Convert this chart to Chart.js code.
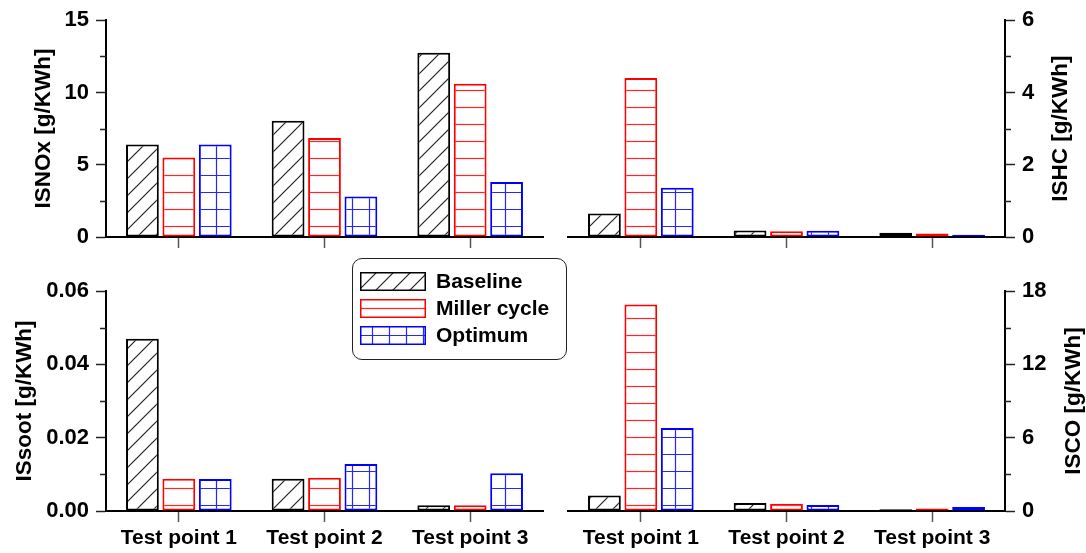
<!DOCTYPE html>
<html>
<head>
<meta charset="utf-8">
<title>Emissões por ponto de teste</title>
<script src="https://cdn.jsdelivr.net/npm/chart.js@4.4.1/dist/chart.umd.min.js"></script>
<style>
  html, body { margin: 0; padding: 0; background: #fff; }
  #tela { position: relative; width: 1086px; height: 553px; }
  #tela canvas.painel { position: absolute; left: 0; top: 0; }
  #legenda { position: absolute; left: 352px; top: 258px; width: 215px; height: 102px; box-sizing: border-box;
    border: 1.5px solid #222; border-radius: 10px; background: #fff;
    font: bold 21px 'Liberation Sans', Arial, sans-serif; color: #000; }
  #legenda .item { position: absolute; left: 7px; height: 19px; display: flex; align-items: center; white-space: nowrap; }
  #legenda .item canvas { margin-right: 10px; }
</style>
</head>
<body>
<div id="tela">
  <canvas id="graficoNox" class="painel" width="1086" height="553"></canvas>
  <canvas id="graficoHc" class="painel" width="1086" height="553"></canvas>
  <canvas id="graficoSoot" class="painel" width="1086" height="553"></canvas>
  <canvas id="graficoCo" class="painel" width="1086" height="553"></canvas>
  <div id="legenda"></div>
</div>
<script>
const categorias = ['Test point 1', 'Test point 2', 'Test point 3'];
const series = ['Baseline', 'Miller cycle', 'Optimum'];

const noxBaseline = [6.4, 8.05, 12.75];
const noxMiller = [5.5, 6.85, 10.6];
const noxOptimum = [6.4, 2.8, 3.8];

const hcBaseline = [0.65, 0.18, 0.12];
const hcMiller = [4.4, 0.16, 0.1];
const hcOptimum = [1.36, 0.17, 0.06];

const sootBaseline = [0.047, 0.0088, 0.0016];
const sootMiller = [0.0088, 0.0091, 0.0016];
const sootOptimum = [0.0087, 0.0128, 0.0103];

const coBaseline = [1.26, 0.65, 0.15];
const coMiller = [16.9, 0.6, 0.2];
const coOptimum = [6.8, 0.5, 0.33];

const noxTicks = [0, 5, 10, 15];
const hcTicks = [0, 2, 4, 6];
const sootTicks = [0, 0.02, 0.04, 0.06];
const sootTickLabels = ['0.00', '0.02', '0.04', '0.06'];
const coTicks = [0, 6, 12, 18];

const cores = ['#000000', '#ff0000', '#0000ff'];

Chart.defaults.font.family = "'Liberation Sans', Arial, sans-serif";
Chart.defaults.font.weight = 'bold';
Chart.defaults.color = '#000';

// hachuras: diagonal, horizontal e grade
function criarPadrao(tipo, fase) {
    const c = document.createElement('canvas');
    c.width = 17; c.height = 17;
    const g = c.getContext('2d');
    g.fillStyle = '#fff';
    g.fillRect(0, 0, 17, 17);
    g.lineWidth = 1.2;
    g.beginPath();
    if (tipo == 'diag') {
        g.strokeStyle = '#222';
        g.moveTo(0, 17); g.lineTo(17, 0);
        g.moveTo(-2, 2); g.lineTo(2, -2);
        g.moveTo(15, 19); g.lineTo(19, 15);
    } else if (tipo == 'horiz') {
        g.strokeStyle = 'rgba(255,0,0,0.85)';
        g.moveTo(0, fase); g.lineTo(17, fase);
    } else {
        g.strokeStyle = 'rgba(0,0,255,0.85)';
        g.moveTo(0, fase); g.lineTo(17, fase);
        g.moveTo(12.5, 0); g.lineTo(12.5, 17);
    }
    g.stroke();
    return g.createPattern(c, 'repeat');
}

function padroes(fase) {
    return [criarPadrao('diag', fase), criarPadrao('horiz', fase), criarPadrao('grade', fase)];
}

function conjuntos(b, m, o, pad) {
    return [b, m, o].map((valores, i) => ({
        label: series[i],
        data: valores,
        backgroundColor: pad[i],
        borderColor: cores[i],
        borderWidth: 2,
        borderSkipped: false,
        categoryPercentage: 0.75,
        barPercentage: 0.9
    }));
}

// ticks menores e titulo do eixo direito (lido de baixo para cima)
const detalheEixo = {
    id: 'detalheEixo',
    afterDraw(chart) {
        const ctx = chart.ctx;
        const y = chart.scales.y;
        const direita = y.position == 'right';
        const x0 = direita ? y.left : y.right;
        const dir = direita ? 1 : -1;
        ctx.save();
        ctx.strokeStyle = '#222';
        ctx.lineWidth = 1.5;
        ctx.beginPath();
        for (let i = 0; i < y.ticks.length - 1; i++) {
            const meio = (y.ticks[i].value + y.ticks[i + 1].value) / 2;
            const py = Math.round(y.getPixelForValue(meio)) + 0.5;
            ctx.moveTo(x0, py);
            ctx.lineTo(x0 + dir * 6, py);
        }
        ctx.stroke();
        const op = chart.options.plugins.detalheEixo;
        if (direita && op && op.titulo) {
            ctx.font = "bold 22.5px 'Liberation Sans', Arial, sans-serif";
            ctx.fillStyle = '#000';
            ctx.textAlign = 'center';
            ctx.textBaseline = 'middle';
            ctx.translate(y.right - op.distancia, (y.top + y.bottom) / 2);
            ctx.rotate(-Math.PI / 2);
            ctx.fillText(op.titulo, 0, 0);
        }
        ctx.restore();
    }
};

function opcoes(c) {
    return {
        responsive: false,
        animation: false,
        layout: { padding: c.padding },
        plugins: {
            legend: { display: false },
            tooltip: { enabled: false },
            detalheEixo: { titulo: c.lado == 'right' ? c.titulo : null, distancia: c.distancia }
        },
        scales: {
            x: {
                ticks: { display: c.rotulos, color: '#000', font: { size: 21, weight: 'bold' }, padding: 4, maxRotation: 0, autoSkip: false },
                grid: { offset: false, drawOnChartArea: false, drawTicks: true, tickLength: 11, tickColor: '#555', tickWidth: 1.5 },
                border: { display: true, color: '#000', width: 2 },
                afterFit(s) { s.height = c.alturaX; }
            },
            y: {
                position: c.lado,
                min: c.ticks[0],
                max: c.ticks[c.ticks.length - 1],
                ticks: {
                    stepSize: c.ticks[1] - c.ticks[0],
                    padding: 7,
                    color: '#000',
                    font: { size: 22, weight: 'bold' },
                    callback: (v, i) => c.rotulosY ? c.rotulosY[i] : String(c.ticks[i])
                },
                grid: { drawOnChartArea: false, drawTicks: true, tickLength: 10, tickColor: '#222', tickWidth: 1.5 },
                border: { display: true, color: '#000', width: 2 },
                title: {
                    display: c.lado == 'left',
                    text: c.titulo,
                    color: '#000',
                    font: { size: 22.5, weight: 'bold' },
                    padding: { top: c.tituloPad || 0, bottom: 0 }
                },
                afterFit(s) { s.width = c.largura; }
            }
        }
    };
}

const padroesTopo = padroes(5.5);
const padroesBaixo = padroes(12.5);

new Chart(document.getElementById('graficoNox'), {
    type: 'bar',
    data: { labels: categorias, datasets: conjuntos(noxBaseline, noxMiller, noxOptimum, padroesTopo) },
    options: opcoes({ lado: 'left', ticks: noxTicks, titulo: 'ISNOx [g/KWh]', tituloPad: 30, largura: 106,
        padding: { left: 0, right: 543, top: 16, bottom: 288 }, alturaX: 28, rotulos: false }),
    plugins: [detalheEixo]
});

new Chart(document.getElementById('graficoHc'), {
    type: 'bar',
    data: { labels: categorias, datasets: conjuntos(hcBaseline, hcMiller, hcOptimum, padroesTopo) },
    options: opcoes({ lado: 'right', ticks: hcTicks, titulo: 'ISHC [g/KWh]', distancia: 25, largura: 81,
        padding: { left: 568, right: 0, top: 16, bottom: 288 }, alturaX: 28, rotulos: false }),
    plugins: [detalheEixo]
});

new Chart(document.getElementById('graficoSoot'), {
    type: 'bar',
    data: { labels: categorias, datasets: conjuntos(sootBaseline, sootMiller, sootOptimum, padroesBaixo) },
    options: opcoes({ lado: 'left', ticks: sootTicks, rotulosY: sootTickLabels, titulo: 'ISsoot [g/KWh]', tituloPad: 11, largura: 106,
        padding: { left: 0, right: 543, top: 291, bottom: 0 }, alturaX: 42, rotulos: true }),
    plugins: [detalheEixo]
});

new Chart(document.getElementById('graficoCo'), {
    type: 'bar',
    data: { labels: categorias, datasets: conjuntos(coBaseline, coMiller, coOptimum, padroesBaixo) },
    options: opcoes({ lado: 'right', ticks: coTicks, titulo: 'ISCO [g/KWh]', distancia: 12, largura: 81,
        padding: { left: 568, right: 0, top: 291, bottom: 0 }, alturaX: 42, rotulos: true }),
    plugins: [detalheEixo]
});

// legenda
const legenda = document.getElementById('legenda');
const padroesLegenda = padroes(9.5);
series.forEach((nome, i) => {
    const item = document.createElement('div');
    item.className = 'item';
    item.style.top = (12.5 + i * 27) + 'px';
    const amostra = document.createElement('canvas');
    amostra.width = 66; amostra.height = 19;
    const g = amostra.getContext('2d');
    g.fillStyle = padroesLegenda[i];
    g.fillRect(0, 0, 66, 19);
    g.strokeStyle = cores[i];
    g.lineWidth = 1.5;
    g.strokeRect(0.75, 0.75, 64.5, 17.5);
    const texto = document.createElement('span');
    texto.textContent = nome;
    item.appendChild(amostra);
    item.appendChild(texto);
    legenda.appendChild(item);
});
</script>
</body>
</html>
